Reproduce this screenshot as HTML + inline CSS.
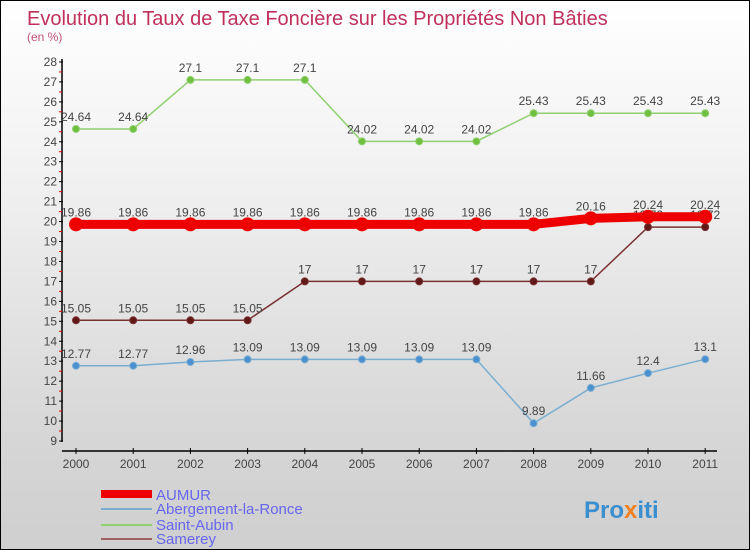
<!DOCTYPE html>
<html><head><meta charset="utf-8"><style>
body{margin:0}
#c{width:748px;height:548px;border:1px solid #000;background:linear-gradient(#fff 0%,#f2f2f2 30%,#d6d6d6 80%,#cfcfcf 100%);position:relative;font-family:"Liberation Sans",sans-serif;overflow:hidden}
</style></head><body>
<div id="c">
<svg id="s" width="748" height="548" xmlns="http://www.w3.org/2000/svg" font-family="Liberation Sans, sans-serif">
<text x="26" y="24" font-size="20" fill="#c0305a">Evolution du Taux de Taxe Foncière sur les Propriétés Non Bâties</text>
<text x="26" y="40" font-size="12" fill="#c0507a">(en %)</text>
<g id="g"></g>
<g>
<rect x="100" y="489" width="51" height="8" fill="#e00"/>
<text x="155" y="499" font-size="15" fill="#6666ee">AUMUR</text>
<rect x="100" y="507" width="51" height="2" fill="#7aaed0"/>
<text x="155" y="513" font-size="15" fill="#6666ee">Abergement-la-Ronce</text>
<rect x="100" y="523" width="51" height="2" fill="#90d070"/>
<text x="155" y="529" font-size="15" fill="#6666ee">Saint-Aubin</text>
<rect x="100" y="537" width="51" height="2" fill="#a06060"/>
<text x="155" y="543" font-size="15" fill="#6666ee">Samerey</text>
</g>
<text x="583" y="517" font-size="24" font-weight="bold" fill="#3a8fd0">Pro<tspan fill="#f08020">x</tspan>iti</text>
</svg>
</div>
<script>
const years=[2000,2001,2002,2003,2004,2005,2006,2007,2008,2009,2010,2011];
const aumur=[19.86,19.86,19.86,19.86,19.86,19.86,19.86,19.86,19.86,20.16,20.24,20.24];
const abergement=[12.77,12.77,12.96,13.09,13.09,13.09,13.09,13.09,9.89,11.66,12.4,13.1];
const saintAubin=[24.64,24.64,27.1,27.1,27.1,24.02,24.02,24.02,25.43,25.43,25.43,25.43];
const samerey=[15.05,15.05,15.05,15.05,17,17,17,17,17,17,19.72,19.72];
const yTicks=[9,10,11,12,13,14,15,16,17,18,19,20,21,22,23,24,25,26,27,28];
const NS="http://www.w3.org/2000/svg";
const g=document.getElementById('g');
const X=i=>75+i*57.2;
const Y=v=>440-(v-9)*19.95;
function el(t,a){const e=document.createElementNS(NS,t);for(const k in a)e.setAttribute(k,a[k]);g.appendChild(e);return e;}
let e=el('line',{x1:61,y1:58,x2:61,y2:441,stroke:'#000','stroke-width':1.5});

e=el('line',{x1:61,y1:450,x2:716,y2:450,stroke:'#000','stroke-width':1.5});

yTicks.forEach(v=>{
 let t=el('line',{x1:58,x2:62,y1:Y(v),y2:Y(v),stroke:'#000'});
 
 if(v<28){let m=el('line',{x1:58,x2:61,y1:Y(v+0.5),y2:Y(v+0.5),stroke:'#e00'});
 }
 let l=el('text',{x:56,y:Y(v)+4,'font-size':12,fill:'#444','text-anchor':'end'});l.textContent=v;
 
});
years.forEach((y,i)=>{
 let t=el('line',{x1:X(i),x2:X(i),y1:447,y2:453,stroke:'#000'});
 
 let l=el('text',{x:X(i),y:467,'font-size':12,fill:'#444','text-anchor':'middle'});l.textContent=y;
 
});
function series(d,name,col,dot,w,r){
 let p=el('polyline',{points:d.map((v,i)=>X(i)+','+Y(v)).join(' '),fill:'none',stroke:col,'stroke-width':w});
 
 d.forEach((v,i)=>{
  let c=el('circle',{cx:X(i),cy:Y(v),r:r,fill:dot,stroke:col});
  
  let l=el('text',{x:X(i),y:Y(v)-8,'font-size':12,fill:'#444','text-anchor':'middle'});l.textContent=v;
  
 });
}
series(saintAubin,'saint-aubin','#90d070','#70c040',1.5,3.5);
series(samerey,'samerey','#7a3030','#601818',1.5,3.5);
series(abergement,'abergement','#7aaed0','#4a90d0',1.5,3.5);
series(aumur,'aumur','#ee0000','#ee0000',9,6.5);
</script>
</body></html>
